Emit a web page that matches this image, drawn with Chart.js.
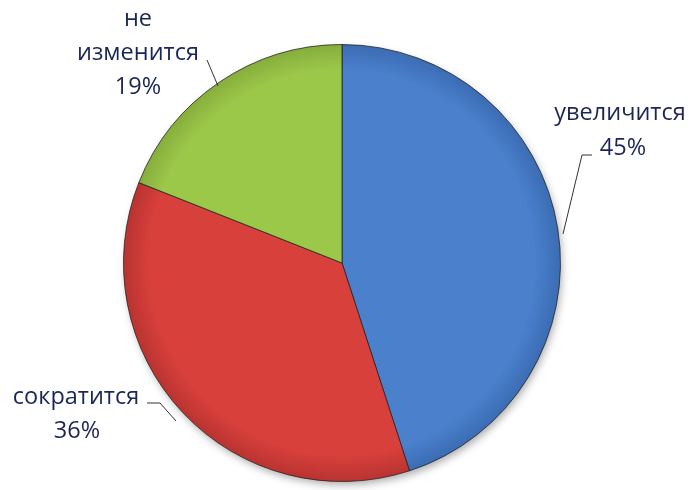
<!DOCTYPE html>
<html>
<head>
<meta charset="utf-8">
<script src="https://cdn.jsdelivr.net/npm/chart.js@4.4.1/dist/chart.umd.min.js"></script>
<style>
  body { margin: 0; background: #fff; }
  #chart { display: block; }
</style>
</head>
<body>
<canvas id="chart" width="689" height="490"></canvas>
<script>
// chart data
const categories = ['увеличится', 'сократится', 'не изменится'];
const shares = [45, 36, 19];
const percentLabels = ['45%', '36%', '19%'];

// slice colours: main / edge for the gradient
const mainColors = ['#4a80cc', '#d8403c', '#9cc84a'];
const edgeColors = ['#3b6cb3', '#b83330', '#86ad3c'];

function sliceFill(context) {
    const chart = context.chart;
    const area = chart.chartArea;
    if (!area) return mainColors[context.dataIndex];
    const cx = (area.left + area.right) / 2;
    const cy = (area.top + area.bottom) / 2;
    const r = Math.min(area.right - area.left, area.bottom - area.top) / 2;
    const g = chart.ctx.createRadialGradient(cx, cy, 0, cx, cy, r);
    g.addColorStop(0, mainColors[context.dataIndex]);
    g.addColorStop(0.88, mainColors[context.dataIndex]);
    g.addColorStop(1, edgeColors[context.dataIndex]);
    return g;
}

// label plugin: text blocks with leader lines
const labelPlugin = {
    id: 'pieLabels',
    afterDatasetsDraw(chart) {
        const ctx = chart.ctx;
        ctx.save();
        ctx.fillStyle = '#1a2656';
        ctx.font = '23.5px "Open Sans", sans-serif';
        ctx.textAlign = 'center';
        ctx.textBaseline = 'middle';

        // 45%
        ctx.fillText(categories[0], 620, 113);
        ctx.fillText(percentLabels[0], 623, 148);
        // 36%
        ctx.fillText(categories[1], 76, 397);
        ctx.fillText(percentLabels[1], 77, 431);
        // 19%
        ctx.fillText('не', 138, 19);
        ctx.fillText('изменится', 138, 53);
        ctx.fillText(percentLabels[2], 138, 87);

        ctx.strokeStyle = '#333';
        ctx.lineWidth = 1;
        ctx.beginPath();
        ctx.moveTo(592, 155); ctx.lineTo(582, 155); ctx.lineTo(563, 234);
        ctx.moveTo(147, 403); ctx.lineTo(160, 403); ctx.lineTo(176, 421);
        ctx.moveTo(207, 60); ctx.lineTo(218, 86);
        ctx.stroke();
        ctx.restore();
    }
};

// soft shadow under the pie
const shadowPlugin = {
    id: 'pieShadow',
    beforeDatasetsDraw(chart) {
        const arc = chart.getDatasetMeta(0).data[0];
        if (!arc) return;
        const ctx = chart.ctx;
        ctx.save();
        ctx.shadowColor = 'rgba(0,0,0,0.35)';
        ctx.shadowBlur = 8;
        ctx.shadowOffsetX = 2;
        ctx.shadowOffsetY = 4;
        ctx.fillStyle = '#fff';
        ctx.beginPath();
        ctx.arc(arc.x, arc.y, arc.outerRadius - 1, 0, Math.PI * 2);
        ctx.fill();
        ctx.restore();
    }
};

new Chart(document.getElementById('chart'), {
    type: 'pie',
    data: {
        labels: categories,
        datasets: [{
            data: shares,
            backgroundColor: sliceFill,
            borderColor: 'rgba(30,30,30,0.75)',
            borderWidth: 1
        }]
    },
    options: {
        responsive: false,
        animation: false,
        layout: {
            padding: { top: 44, bottom: 8, left: 123, right: 128 }
        },
        plugins: {
            legend: { display: false },
            tooltip: { enabled: false }
        }
    },
    plugins: [shadowPlugin, labelPlugin]
});
</script>
</body>
</html>
